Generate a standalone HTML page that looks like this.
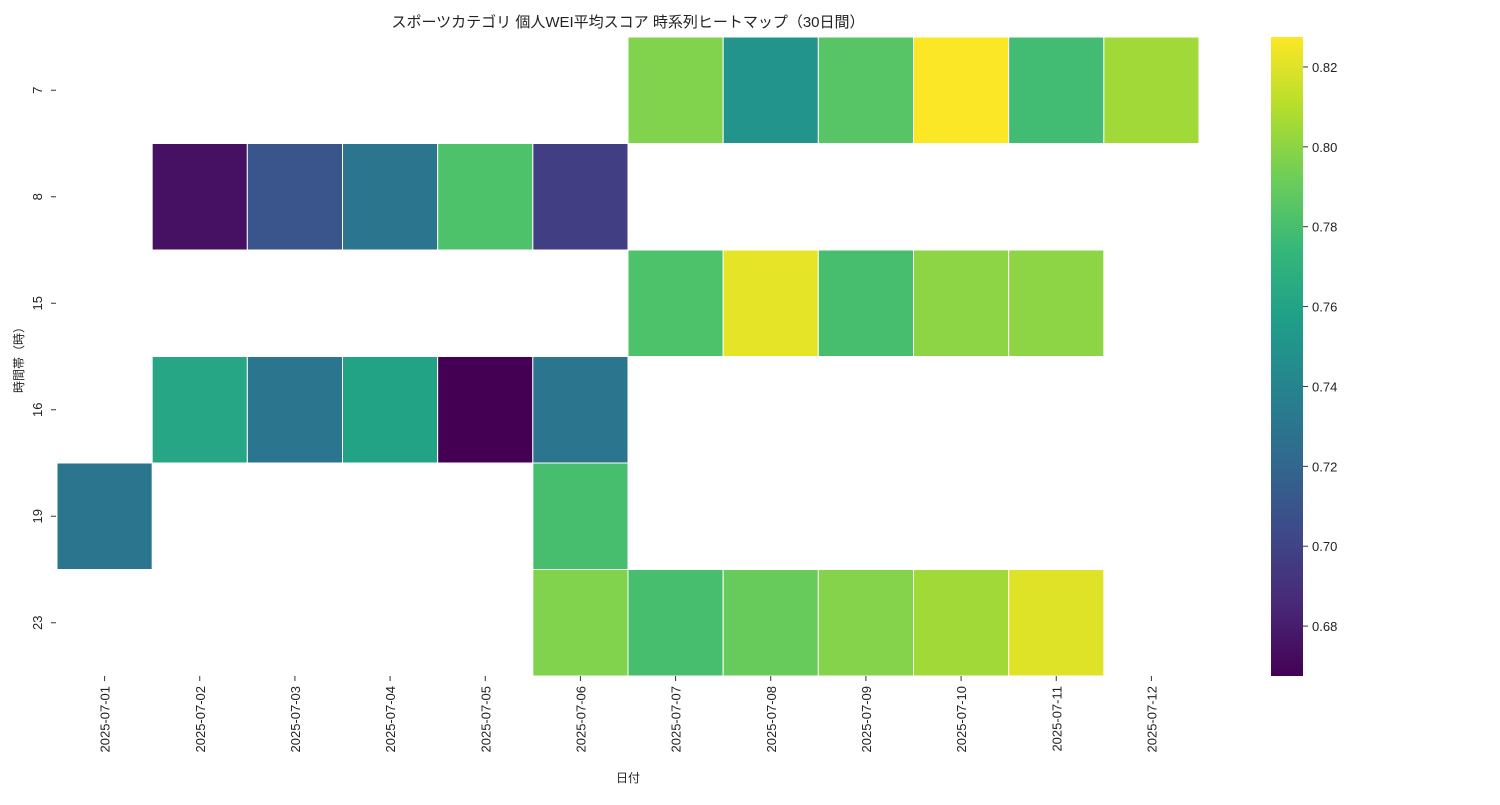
<!DOCTYPE html>
<html><head><meta charset="utf-8"><style>
body{margin:0;background:#fff;}
svg text{font-family:"Liberation Sans","Noto Sans CJK JP",sans-serif;fill:#222;}
</style></head><body>
<svg id="chart" width="1500" height="800" xmlns="http://www.w3.org/2000/svg">
<text x="628" y="27" font-size="15" text-anchor="middle">スポーツカテゴリ 個人WEI平均スコア 時系列ヒートマップ（30日間）</text>
<g id="cells"></g>
<g id="xaxis"></g>
<g id="yaxis"></g>
<text x="628" y="782" font-size="12" text-anchor="middle">日付</text>
<text transform="translate(23,357) rotate(-90)" font-size="12" text-anchor="middle">時間帯（時）</text>
<defs><linearGradient id="cbg" x1="0" y1="1" x2="0" y2="0"></linearGradient></defs>
<rect x="1271" y="37" width="32" height="639" fill="url(#cbg)"/>
<g id="cbticks"></g>
</svg>
<script>
const dates=["2025-07-01","2025-07-02","2025-07-03","2025-07-04","2025-07-05","2025-07-06","2025-07-07","2025-07-08","2025-07-09","2025-07-10","2025-07-11","2025-07-12"];
const hours=["7","8","15","16","19","23"];
const row7=[null,null,null,null,null,null,0.797,0.750,0.785,0.827,0.778,0.805];
const row8=[null,0.675,0.710,0.730,0.782,0.697,null,null,null,null,null,null];
const row15=[null,null,null,null,null,null,0.782,0.822,0.780,0.800,0.800,null];
const row16=[null,0.762,0.730,0.760,0.6675,0.730,null,null,null,null,null,null];
const row19=[0.730,null,null,null,null,0.780,null,null,null,null,null,null];
const row23=[null,null,null,null,null,0.797,0.780,0.790,0.798,0.805,0.820,null];
const cbTicks=[0.68,0.70,0.72,0.74,0.76,0.78,0.80,0.82];
const vmin=0.6675,vmax=0.8275;
const rows=[row7,row8,row15,row16,row19,row23];
const X0=57,X1=1199,Y0=37,Y1=676;
const cw=(X1-X0)/dates.length,rh=(Y1-Y0)/hours.length;
const xs=i=>X0+i*cw, ys=j=>Y0+j*rh;
const cbY=v=>Y1-(v-vmin)/(vmax-vmin)*(Y1-Y0);
const vir=[[68,1,84],[72,40,120],[62,73,137],[49,104,142],[38,130,142],[31,158,137],[53,183,121],[109,205,89],[180,222,44],[253,231,37]];
function color(v){let t=Math.max(0,Math.min(1,(v-vmin)/(vmax-vmin)))*(vir.length-1);let i=Math.min(Math.floor(t),vir.length-2),f=t-i;const c=vir[i].map((a,k)=>Math.round(a+(vir[i+1][k]-a)*f));return `rgb(${c.join(',')})`;}
const NS="http://www.w3.org/2000/svg";
function mk(tag,at,parent){const e=document.createElementNS(NS,tag);for(const k in at)e.setAttribute(k,at[k]);parent.appendChild(e);return e;}
const cells=document.getElementById('cells');
rows.forEach((r,j)=>r.forEach((v,i)=>{if(v==null)return;
 const el=mk('rect',{x:xs(i),y:ys(j),width:cw,height:rh,fill:color(v),stroke:'#fff','stroke-width':1},cells);
 
 }));
const xa=document.getElementById('xaxis');
dates.forEach((d,i)=>{const cx=xs(i)+cw/2;
 mk('line',{x1:cx,x2:cx,y1:Y1,y2:Y1+5,stroke:'#333'},xa);
 const t=mk('text',{transform:`translate(${cx+5},${Y1+10}) rotate(-90)`,'font-size':13,'text-anchor':'end'},xa);t.textContent=d;
 
 });
const ya=document.getElementById('yaxis');
hours.forEach((h,j)=>{const cy=ys(j)+rh/2;
 mk('line',{x1:X0-6,x2:X0-1,y1:cy,y2:cy,stroke:'#333'},ya);
 const t=mk('text',{transform:`translate(${X0-15},${cy}) rotate(-90)`,'font-size':13,'text-anchor':'middle'},ya);t.textContent=h;
 
 });
const g=document.getElementById('cbg');
vir.forEach((c,k)=>mk('stop',{offset:k/(vir.length-1),'stop-color':`rgb(${c.join(',')})`},g));
const cb=document.getElementById('cbticks');
cbTicks.forEach(v=>{const y=cbY(v);
 mk('line',{x1:1303,x2:1308,y1:y,y2:y,stroke:'#333'},cb);
 const t=mk('text',{x:1312,y:y+5,'font-size':13},cb);t.textContent=v.toFixed(2);
 
 });
</script>
</body></html>
